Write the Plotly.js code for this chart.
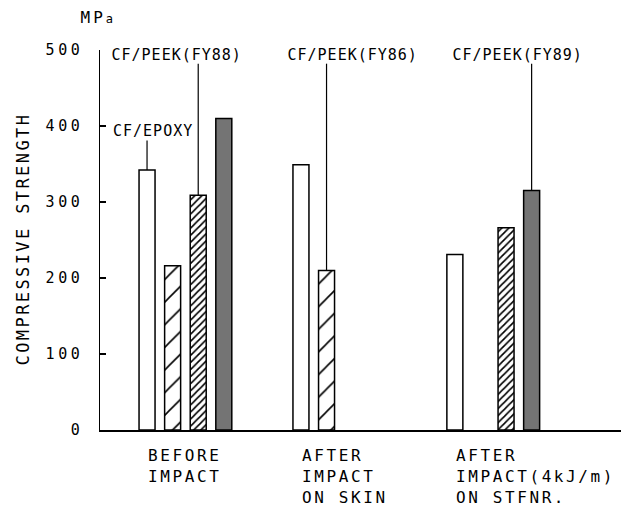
<!DOCTYPE html>
<html>
<head>
<meta charset="utf-8">
<script src="https://cdn.plot.ly/plotly-3.0.1.min.js"></script>
<style>
  html, body { margin: 0; padding: 0; background: #fff; }
  #chart { width: 621px; height: 516px; }
  .ytick text { letter-spacing: 3.6px; }
</style>
</head>
<body>
<div id="chart"></div>
<script>
// ---- data ----
const categories = ["BEFORE<br>IMPACT", "AFTER<br>IMPACT<br>ON SKIN", "AFTER<br>IMPACT(4kJ/m)<br>ON STFNR."];
const seriesNames = ["CF/EPOXY", "CF/PEEK(FY86)", "CF/PEEK(FY88)", "CF/PEEK(FY89)"];
const epoxy  = [342, 349, 231];
const peek86 = [216, 210, null];
const peek88 = [309, null, 266];
const peek89 = [410, null, 315];
const yTicks = [0, 100, 200, 300, 400, 500];
const yUnit = "MP<span style='font-size:12px'>a</span>";
const yTitle = "COMPRESSIVE STRENGTH";

// ---- styles ----
const FONT = "DejaVu Sans Mono";
const BARGAP = 0.335, BARGROUPGAP = 0.375;
const series = [epoxy, peek86, peek88, peek89];
const xIdx = categories.map((c, i) => i);
const edge = {color: "#000", width: 1.5};
const markers = [
  {color: "#fff", line: edge},
  {color: "#fff", line: edge, pattern: {shape: "/", size: 16, solidity: 0.1, fgcolor: "#000", bgcolor: "#fff"}},
  {color: "#fff", line: edge, pattern: {shape: "/", size: 5, solidity: 0.33, fgcolor: "#000", bgcolor: "#fff"}},
  {color: "#747474", line: edge}
];

const traces = series.map((vals, k) => ({
  type: "bar",
  name: seriesNames[k],
  x: xIdx,
  y: vals,
  marker: markers[k],
  hoverinfo: "skip"
}));

// bar centre within a group
const slot = (1 - BARGAP) / series.length;
const barX = (g, k) => g + (k - (series.length - 1) / 2) * slot;

// labels with leader lines: series index, group index, label position, line top
const labels = [
  {k: 2, g: 0, tx: -0.055, ty: 494, top: 482},
  {k: 0, g: 0, tx: -0.21, ty: 394, top: 381},
  {k: 1, g: 1, tx: 1.086, ty: 494, top: 482},
  {k: 3, g: 2, tx: 2.155, ty: 494, top: 482}
];

const shapes = labels.map(l => ({
  type: "line", xref: "x", yref: "y",
  x0: barX(l.g, l.k), x1: barX(l.g, l.k),
  y0: series[l.k][l.g], y1: l.top,
  line: {color: "#000", width: 1.2}
}));

const annotations = [];
const spacing = [];
labels.forEach(l => {
  annotations.push({
    xref: "x", yref: "y", x: l.tx, y: l.ty, text: seriesNames[l.k],
    showarrow: false, xanchor: "center", yanchor: "middle",
    font: {family: FONT, size: 15, color: "#000"}
  });
  spacing.push("1px");
});
categories.forEach((c, g) => {
  annotations.push({
    xref: "x", yref: "y", x: g, y: 0, xshift: -39, yshift: -14,
    text: c, showarrow: false, xanchor: "left", yanchor: "top", align: "left",
    font: {family: FONT, size: 16, color: "#000"}
  });
  spacing.push("2.6px");
});
annotations.push({
  xref: "paper", yref: "paper", x: -0.146, y: 0.504, text: yTitle, textangle: -90,
  showarrow: false, xanchor: "center", yanchor: "middle",
  font: {family: FONT, size: 17, color: "#000"}
});
spacing.push("2.4px");
annotations.push({
  xref: "paper", yref: "paper", x: -0.003, y: 1.0855, text: yUnit,
  showarrow: false, xanchor: "center", yanchor: "middle",
  font: {family: FONT, size: 16, color: "#000"}
});
spacing.push("3px");

const layout = {
  width: 621, height: 516,
  margin: {l: 100, r: 0, t: 50, b: 86},
  paper_bgcolor: "#fff", plot_bgcolor: "#fff",
  showlegend: false,
  barmode: "group", bargap: BARGAP, bargroupgap: BARGROUPGAP,
  xaxis: {
    range: [-0.555, 2.83], showline: true, linecolor: "#000", linewidth: 1.5,
    showgrid: false, zeroline: false, showticklabels: false, ticks: "", fixedrange: true
  },
  yaxis: {
    range: [0, 500], tickvals: yTicks, showline: true, linecolor: "#000", linewidth: 1.5,
    ticks: "inside", ticklen: 6, tickwidth: 1.5, tickcolor: "#000",
    showgrid: false, zeroline: false, ticklabelstandoff: 12,
    tickfont: {family: FONT, size: 15, color: "#000"}, fixedrange: true
  },
  shapes: shapes,
  annotations: annotations
};

Plotly.newPlot("chart", traces, layout, {displayModeBar: false, staticPlot: true}).then(gd => {
  gd.querySelectorAll("g.annotation").forEach(a => {
    const i = +a.getAttribute("data-index");
    a.querySelectorAll("text").forEach(t => { t.style.letterSpacing = spacing[i]; });
  });
});
</script>
</body>
</html>
